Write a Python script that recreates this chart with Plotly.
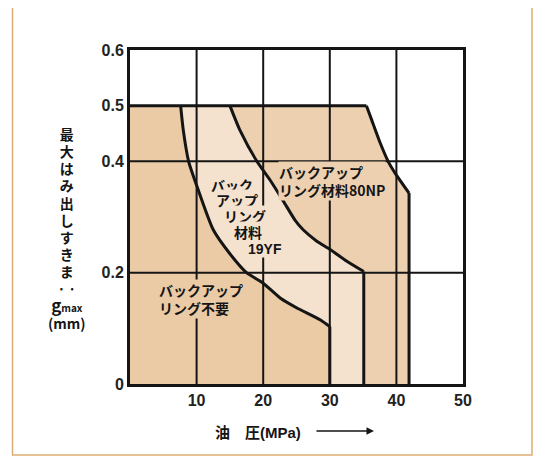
import plotly.graph_objects as go

# ---- data ----
x_ticks = [10, 20, 30, 40, 50]
x_tick_labels = ["10", "20", "30", "40", "50"]
y_ticks = [0, 0.2, 0.4, 0.5, 0.6]
y_tick_labels = ["0", "0.2", "0.4", "0.5", "0.6"]
x_grid = [10, 20, 30, 40]
y_grid = [0.2, 0.4]

y_top = 0.5  # upper limit of all regions

# boundary 1: "backup ring not needed" limit
c1_x = [7.6, 8.0, 8.8, 10.0, 12.5, 15.0, 17.5, 20.0, 22.6, 25.0, 28.6, 30.0]
c1_y = [0.5, 0.456, 0.4, 0.357, 0.277, 0.234, 0.2, 0.181, 0.154, 0.137, 0.115, 0.103]
c1_limit_x = 30.0

# boundary 2: backup ring 19YF limit
c2_x = [15.0, 16.5, 19.05, 21.05, 23.0, 24.8, 26.0, 28.0, 30.0, 32.5, 35.1]
c2_y = [0.5, 0.456, 0.4, 0.366, 0.329, 0.294, 0.277, 0.257, 0.242, 0.221, 0.202]
c2_limit_x = 35.1

# boundary 3: backup ring 80NP limit
c3_x = [35.5, 36.3, 37.6, 38.8, 39.85, 41.9]
c3_y = [0.5, 0.474, 0.432, 0.399, 0.378, 0.343]
c3_limit_x = 41.9

col_a = "#ebcaa6"
col_b = "#f4e2ce"
col_c = "#ecd0b0"
ink = "#151515"

OFF = 8  # page offset of the figure inside the browser window
W, H = 541 - OFF, 458 - OFF
ML, MR, MT, MB = 130 - OFF, 78, 50 - OFF, 74
PW, PH = W - ML - MR, H - MT - MB


def px(xp):
    return (xp - OFF - ML) / PW


def py(yp):
    return (H - MB - (yp - OFF)) / PH


fig = go.Figure()

# region A
ax_ = [0, 0] + c1_x + [c1_limit_x, c1_limit_x]
ay_ = [0, y_top] + c1_y + [c1_y[-1], 0]
fig.add_trace(go.Scatter(x=ax_, y=ay_, fill="toself", fillcolor=col_a, mode="none", hoverinfo="skip"))

# region B
bx = c1_x[:1] + c2_x + [c2_limit_x, c1_limit_x] + c1_x[::-1]
by = [y_top] + c2_y + [0, 0] + c1_y[::-1]
fig.add_trace(go.Scatter(x=bx, y=by, fill="toself", fillcolor=col_b, mode="none", hoverinfo="skip"))

# region C
cx = c2_x[:1] + c3_x + [c3_limit_x, c2_limit_x] + c2_x[::-1]
cy = [y_top] + c3_y + [0, 0] + c2_y[::-1]
fig.add_trace(go.Scatter(x=cx, y=cy, fill="toself", fillcolor=col_c, mode="none", hoverinfo="skip"))

# gridlines above fills
shapes = []
for g in x_grid:
    shapes.append(dict(type="line", xref="x", yref="y", x0=g, x1=g, y0=0, y1=0.6,
                       line=dict(color=ink, width=2), layer="above"))
for g in y_grid:
    shapes.append(dict(type="line", xref="x", yref="y", x0=0, x1=50, y0=g, y1=g,
                       line=dict(color=ink, width=2), layer="above"))
# outer frame of the figure
shapes.append(dict(type="rect", xref="paper", yref="paper",
                   x0=px(12.5), x1=px(532), y0=py(455), y1=py(5),
                   line=dict(color="#dcae74", width=1.5), layer="above"))
fig.update_layout(shapes=shapes)

# boundary lines
curve_style = dict(color=ink, width=3, shape="spline", smoothing=0.6)
straight_style = dict(color=ink, width=3)
fig.add_trace(go.Scatter(x=c1_x, y=c1_y, mode="lines", line=curve_style, hoverinfo="skip"))
fig.add_trace(go.Scatter(x=[c1_limit_x, c1_limit_x], y=[c1_y[-1], 0], mode="lines", line=straight_style, hoverinfo="skip"))
fig.add_trace(go.Scatter(x=c2_x, y=c2_y, mode="lines", line=curve_style, hoverinfo="skip"))
fig.add_trace(go.Scatter(x=[c2_limit_x, c2_limit_x], y=[c2_y[-1], 0], mode="lines", line=straight_style, hoverinfo="skip"))
fig.add_trace(go.Scatter(x=[0, c3_x[0]], y=[y_top, y_top], mode="lines", line=straight_style, hoverinfo="skip"))
fig.add_trace(go.Scatter(x=c3_x, y=c3_y, mode="lines", line=curve_style, hoverinfo="skip"))
fig.add_trace(go.Scatter(x=[c3_limit_x, c3_limit_x], y=[c3_y[-1], 0], mode="lines", line=straight_style, hoverinfo="skip"))

jp = "Noto Sans CJK JP"
lab_font = dict(family=jp, size=14, color=ink, weight="bold")
ann = []


def label(text, x, y, bg):
    ann.append(dict(text=text, x=x, y=y, xref="x", yref="y", xanchor="left", yanchor="middle",
                    showarrow=False, align="left", font=lab_font, bgcolor=bg, borderpad=0))


label("バックアップ<br>リング不要", 4.2, 0.153, col_a)
label("バックアップ<br>リング材料80NP", 22.2, 0.365, col_c)
# staircase label for 19YF
label("バック", 12.0, 0.358, col_b)
label("アップ", 12.8, 0.331, col_b)
label("リング", 14.0, 0.302, col_b)
label("材料\u00a0", 15.5, 0.273, col_b)
label("<span style='font-family:Liberation Sans'>19YF</span>", 17.6, 0.243, col_b)

# y axis title (vertical), one glyph per line, single text block
title_lines = ["<span style='font-size:14px'>%s</span>" % ch for ch in "最大はみ出しすきま"]
title_lines += ["· ·",
                "<span style='font-size:17px'>g</span><span style='font-size:10px'>max</span>",
                "<span style='font-size:14px'>(mm)</span>"]
ann.append(dict(text="<br>".join(title_lines), x=px(67), y=py(228.5), xref="paper", yref="paper",
                xanchor="center", yanchor="middle", align="center", showarrow=False,
                font=dict(family=jp, size=13.2, color=ink, weight="bold")))

# x axis title with arrow
ann.append(dict(text="油　圧<span style='font-family:Liberation Sans'>(MPa)</span>", x=px(213), y=py(431),
                xref="paper", yref="paper", xanchor="left", yanchor="middle", showarrow=False,
                font=dict(family=jp, size=15, color=ink, weight="bold")))
ann.append(dict(text="", x=px(374), y=py(431), xref="paper", yref="paper", showarrow=True,
                ax=-59, ay=0, arrowhead=2, arrowsize=1, arrowwidth=1.5, arrowcolor=ink))

fig.update_layout(annotations=ann)

tick_font = dict(family="Liberation Sans", size=16, color="#222", weight="bold")
fig.update_xaxes(range=[0, 50], tickvals=x_ticks, ticktext=x_tick_labels, showgrid=False, zeroline=False,
                 showline=True, linewidth=3, linecolor=ink, mirror=True, ticks="", tickfont=tick_font)
fig.update_yaxes(range=[0, 0.6], tickvals=y_ticks, ticktext=y_tick_labels, showgrid=False, zeroline=False,
                 showline=True, linewidth=3, linecolor=ink, mirror=True, ticks="", tickfont=tick_font)

fig.update_layout(width=W, height=H, margin=dict(l=ML, r=MR, t=MT, b=MB), showlegend=False,
                  plot_bgcolor="white", paper_bgcolor="white")

fig.write_html("out.html")
